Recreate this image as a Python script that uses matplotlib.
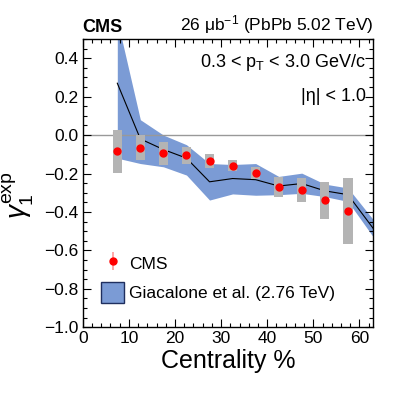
import matplotlib
matplotlib.use("Agg")
import matplotlib.pyplot as plt
from matplotlib.ticker import MultipleLocator
from matplotlib.patches import Patch

plt.rcParams['font.family'] = ['Liberation Sans', 'DejaVu Sans']
plt.rcParams['mathtext.fontset'] = 'custom'
plt.rcParams['mathtext.rm'] = 'Liberation Sans'
plt.rcParams['mathtext.it'] = 'Liberation Sans:italic'
plt.rcParams['mathtext.bf'] = 'Liberation Sans:bold'

# CMS data
centrality = [7.5, 12.5, 17.5, 22.5, 27.5, 32.5, 37.5, 42.5, 47.5, 52.5, 57.5]
gamma1 = [-0.085, -0.067, -0.094, -0.106, -0.135, -0.159, -0.197, -0.270, -0.284, -0.340, -0.395]
stat_err = [0.012, 0.010, 0.008, 0.008, 0.008, 0.008, 0.009, 0.010, 0.011, 0.013, 0.016]
sys_err = [0.113, 0.065, 0.060, 0.043, 0.035, 0.028, 0.031, 0.050, 0.062, 0.097, 0.174]

# Giacalone et al. model band
model_x = [7.5, 12.5, 17.5, 22.5, 27.5, 32.5, 37.5, 42.5, 47.5, 52.5, 57.5, 63.0]
model_mid = [0.27, -0.02, -0.075, -0.12, -0.243, -0.226, -0.232, -0.265, -0.252, -0.29, -0.31, -0.486]
model_hi = [0.60, 0.08, 0.0, -0.05, -0.148, -0.153, -0.148, -0.215, -0.198, -0.255, -0.275, -0.44]
model_lo = [-0.12, -0.148, -0.165, -0.208, -0.338, -0.306, -0.313, -0.31, -0.303, -0.32, -0.345, -0.53]

band_color = '#7b9bd5'
grey = '#b4b4b4'

fig = plt.figure(figsize=(4.15, 3.96), dpi=100)
ax = fig.add_axes([0.1993, 0.1735, 0.7002, 0.728])

ax.fill_between(model_x, model_lo, model_hi, color=band_color, lw=0, zorder=1)
ax.plot(model_x, model_mid, color='black', lw=0.8, zorder=2)
ax.axhline(0.0, color='#999999', lw=1.0, zorder=1.5)

lows = [g - s for g, s in zip(gamma1, sys_err)]
heights = [2 * s for s in sys_err]
ax.bar(centrality, heights, bottom=lows, width=2.0, color=grey, lw=0, zorder=3)
ax.errorbar(centrality, gamma1, yerr=stat_err, fmt='o', color='red', ms=5,
            ecolor='#ff9999', elinewidth=1.2, capsize=0, zorder=4)

ax.set_xlim(0, 63)
ax.set_ylim(-1.0, 0.5)
ax.xaxis.set_major_locator(MultipleLocator(10))
ax.xaxis.set_minor_locator(MultipleLocator(2))
ax.yaxis.set_major_locator(MultipleLocator(0.2))
ax.yaxis.set_minor_locator(MultipleLocator(0.05))
ax.tick_params(which='both', direction='in', top=True, right=True, labelsize=12.5, width=0.8)
ax.tick_params(which='major', length=6)
ax.tick_params(which='minor', length=3)
ax.tick_params(axis='x', pad=3)
ax.tick_params(axis='y', pad=3)
for s in ax.spines.values():
    s.set_linewidth(1.0)

ax.set_xlabel('Centrality %', fontsize=18, labelpad=2)
ax.set_ylabel(r'$\gamma_{1}^{\mathrm{exp}}$', fontsize=20)
ax.yaxis.set_label_coords(-0.16, 0.46)

ax.text(0.0, 1.012, 'CMS', transform=ax.transAxes, fontsize=13, fontweight='bold',
        ha='left', va='bottom')
ax.text(1.0, 1.012, r'26 μb$^{-1}$ (PbPb 5.02 TeV)', transform=ax.transAxes,
        fontsize=12.5, ha='right', va='bottom')
ax.text(0.975, 0.92, r'0.3 < $\mathrm{p}_{\mathrm{T}}$ < 3.0 GeV/c', transform=ax.transAxes,
        fontsize=13, ha='right', va='center')
ax.text(0.975, 0.80, '|η| < 1.0', transform=ax.transAxes,
        fontsize=13, ha='right', va='center')

cont = ax.errorbar([], [], yerr=[], fmt='o', color='red', ms=5, ecolor='#ff9999',
                   elinewidth=1.2, capsize=0)
h2 = Patch(facecolor=band_color, edgecolor='#1f2f5f', lw=1.0)
leg = ax.legend([cont, h2], ['CMS', 'Giacalone et al. (2.76 TeV)'], loc='lower left',
                bbox_to_anchor=(0.04, 0.06), frameon=False, fontsize=12.5,
                handlelength=1.3, handleheight=1.5, handletextpad=0.3,
                labelspacing=0.45, borderaxespad=0.0)

fig.savefig('out.png', dpi=100)
